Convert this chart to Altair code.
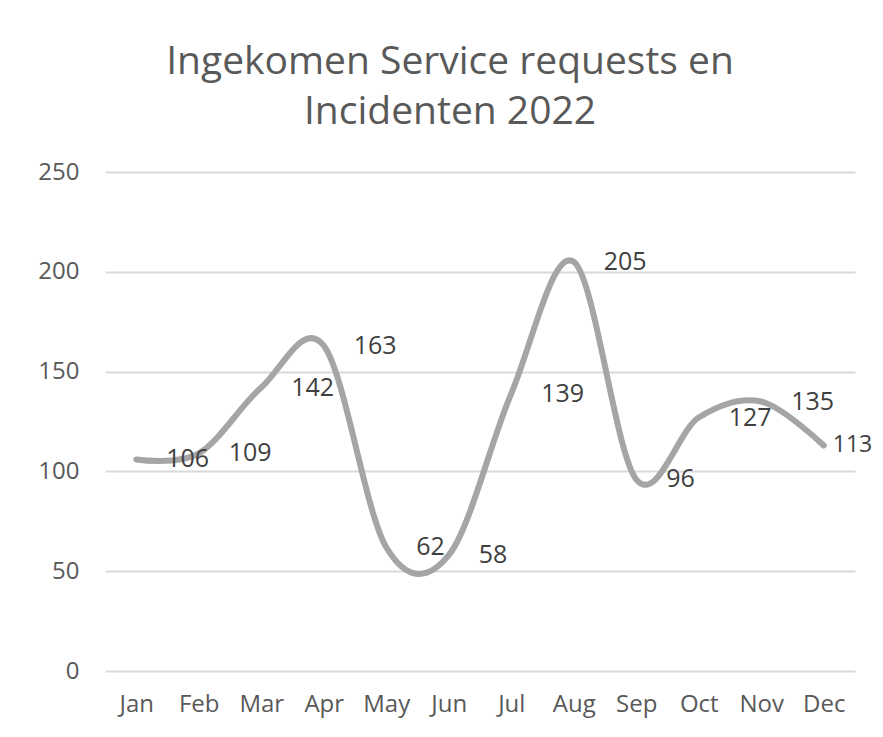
import altair as alt
import pandas as pd

months = ["Jan", "Feb", "Mar", "Apr", "May", "Jun", "Jul", "Aug", "Sep", "Oct", "Nov", "Dec"]
values = [106, 109, 142, 163, 62, 58, 139, 205, 96, 127, 135, 113]
y_ticks = [0, 50, 100, 150, 200, 250]
title_lines = ["Ingekomen Service requests en", "Incidenten 2022"]

df = pd.DataFrame({"month": months, "value": values})

FONT = "Open Sans"
GREY = "#595959"

x = alt.X("month:O", sort=months, scale=alt.Scale(type="point", padding=0.5),
          axis=alt.Axis(title=None, labelAngle=0, domain=False, ticks=False, grid=False,
                        labelPadding=21, labelFontSize=24, labelFont=FONT, labelColor=GREY))
y = alt.Y("value:Q", scale=alt.Scale(domain=[0, 250], nice=False, zero=True),
          axis=alt.Axis(title=None, values=y_ticks, domain=False, ticks=False, labelPadding=26,
                        labelFontSize=24, labelFont=FONT, labelColor=GREY,
                        gridColor="#d9d9d9", gridWidth=2))

line = alt.Chart(df).mark_line(interpolate="cardinal", color="#a5a5a5", strokeWidth=6,
                               strokeCap="round").encode(x=x, y=y)

labels_main = alt.Chart(df).transform_filter(alt.datum.month != "Dec").mark_text(
    align="left", baseline="middle", dx=30, font=FONT, fontSize=25, color="#404040"
).encode(x=x, y=y, text="value:Q")

labels_last = alt.Chart(df).transform_filter(alt.datum.month == "Dec").mark_text(
    align="left", baseline="middle", dx=9, font=FONT, fontSize=23, color="#404040"
).encode(x=x, y=y, text="value:Q")

chart = alt.layer(line, labels_main, labels_last).properties(
    width=750, height=499,
    title=alt.TitleParams(text=title_lines, font=FONT, fontSize=39, fontWeight="normal",
                          color=GREY, anchor="middle", lineHeight=50, offset=28, dx=-30),
    autosize=alt.AutoSizeParams(type="none"),
    padding={"left": 97, "top": 164, "right": 18, "bottom": 50},
).configure(background="white").configure_view(strokeWidth=0, stroke="transparent")

chart.save("out.html", embed_options={"renderer": "svg", "actions": False})
